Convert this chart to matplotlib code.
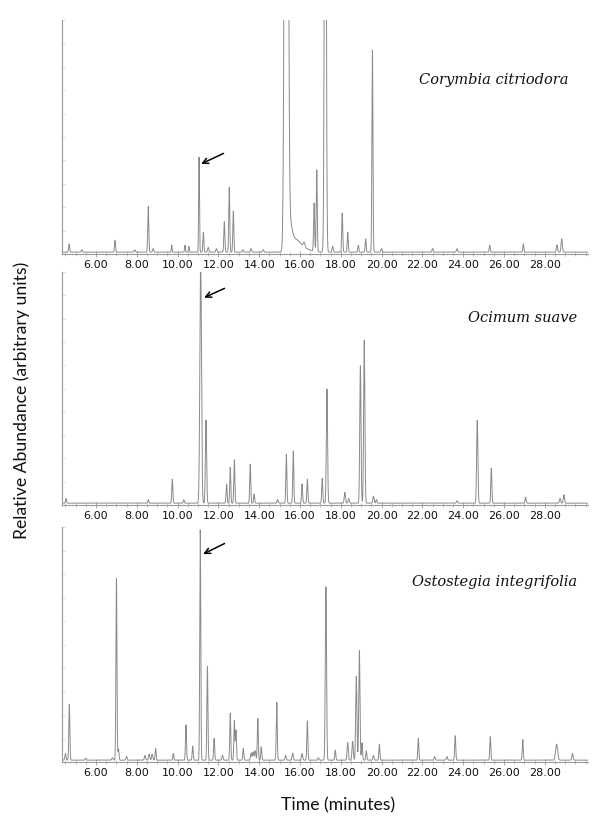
import numpy as np
import matplotlib
matplotlib.use("Agg")
import matplotlib.pyplot as plt
from matplotlib.ticker import MultipleLocator, FixedLocator

# ---------------- data (peak tables) ----------------
# retention time (min), height (% of panel full scale), width (sigma, min)
cc_times = [4.68, 5.30, 6.93, 7.90, 8.56, 8.80, 9.71, 10.36, 10.55, 11.05, 11.26, 11.50,
            11.90, 12.29, 12.53, 12.73, 13.20, 13.60, 14.20, 15.33, 15.52, 15.75, 16.05,
            16.20, 16.69, 16.82, 17.24, 17.60, 18.07, 18.34, 18.86, 19.22, 19.55, 20.00,
            22.50, 23.70, 25.30, 26.95, 28.60, 28.83]
cc_heights = [3.5, 1.0, 5.0, 1.0, 19.5, 1.5, 3.0, 3.0, 2.5, 40.6, 8.5, 2.0,
              1.5, 13.0, 27.8, 17.5, 1.0, 1.5, 1.0, 600.0, 9.0, 4.0, 2.0,
              2.0, 20.6, 35.0, 300.0, 2.5, 16.7, 8.5, 3.0, 5.7, 86.5, 1.5,
              1.5, 1.5, 3.0, 3.5, 3.0, 5.7]
cc_widths = [0.025, 0.03, 0.025, 0.03, 0.025, 0.03, 0.02, 0.02, 0.02, 0.02, 0.025, 0.03,
             0.03, 0.025, 0.025, 0.025, 0.03, 0.03, 0.03, 0.066, 0.1, 0.22, 0.35,
             0.04, 0.025, 0.025, 0.04, 0.03, 0.025, 0.025, 0.025, 0.025, 0.025, 0.03,
             0.03, 0.03, 0.025, 0.025, 0.03, 0.03]

os_times = [4.53, 8.56, 9.74, 10.30, 11.13, 11.39, 12.40, 12.58, 12.78, 13.56, 13.75,
            14.90, 15.33, 15.67, 16.10, 16.36, 17.09, 17.32, 18.20, 18.39, 18.96, 19.15,
            19.60, 19.75, 23.70, 24.69, 25.38, 27.06, 28.75, 28.94]
os_heights = [2.0, 1.5, 10.3, 1.5, 104.0, 35.7, 8.2, 15.3, 18.6, 16.7, 3.9,
              1.5, 21.0, 22.4, 8.3, 10.3, 10.7, 49.0, 4.6, 2.0, 59.0, 70.0,
              3.0, 1.5, 1.0, 35.5, 15.0, 2.6, 2.0, 3.6]
os_widths = [0.025, 0.025, 0.025, 0.025, 0.04, 0.03, 0.025, 0.025, 0.025, 0.025, 0.025,
             0.03, 0.025, 0.025, 0.025, 0.025, 0.025, 0.03, 0.03, 0.03, 0.03, 0.03,
             0.03, 0.03, 0.03, 0.03, 0.025, 0.025, 0.03, 0.03]

oi_times = [4.50, 4.69, 5.50, 6.80, 7.00, 7.10, 7.50, 8.40, 8.60, 8.75, 8.92, 9.79,
            10.41, 10.74, 11.11, 11.46, 11.79, 12.20, 12.58, 12.78, 12.86, 13.22, 13.60,
            13.70, 13.80, 13.93, 14.10, 14.86, 15.30, 15.64, 16.10, 16.36, 16.90, 17.27,
            17.73, 18.34, 18.58, 18.76, 18.91, 19.04, 19.25, 19.60, 19.89, 21.80, 22.60,
            23.20, 23.61, 25.33, 26.92, 28.58, 29.36]
oi_heights = [2.8, 23.8, 0.8, 1.0, 77.4, 4.7, 1.5, 2.0, 2.5, 2.5, 5.0, 2.8,
              15.0, 6.0, 98.0, 40.0, 9.3, 2.0, 20.0, 16.8, 12.8, 5.0, 3.0,
              3.5, 4.0, 17.8, 5.7, 24.6, 2.0, 3.0, 2.8, 16.7, 1.0, 73.8,
              4.3, 7.5, 8.0, 35.6, 46.6, 7.4, 4.0, 2.0, 6.7, 9.3, 1.5,
              1.5, 10.4, 10.0, 8.8, 6.7, 2.8]
oi_widths = [0.03, 0.025, 0.03, 0.03, 0.025, 0.025, 0.03, 0.03, 0.03, 0.03, 0.025, 0.025,
             0.025, 0.025, 0.025, 0.025, 0.025, 0.03, 0.025, 0.025, 0.025, 0.025, 0.03,
             0.03, 0.03, 0.025, 0.025, 0.025, 0.03, 0.03, 0.03, 0.025, 0.03, 0.03,
             0.025, 0.03, 0.03, 0.03, 0.03, 0.025, 0.025, 0.03, 0.025, 0.025, 0.03,
             0.03, 0.025, 0.025, 0.025, 0.05, 0.03]

species = ["Corymbia citriodora", "Ocimum suave", "Ostostegia integrifolia"]
tick_values = [6, 8, 10, 12, 14, 16, 18, 20, 22, 24, 26, 28]
tick_labels = ["6.00", "8.00", "10.00", "12.00", "14.00", "16.00", "18.00",
               "20.00", "22.00", "24.00", "26.00", "28.00"]
# arrow tip (time, % height) and tail
arrow_tips = [(11.15, 38.5), (11.30, 89.0), (11.25, 88.5)]
arrow_tails = [(12.25, 43.0), (12.30, 93.0), (12.30, 93.0)]

x_min, x_max = 4.33, 30.12
baseline_level = 0.8

# ---------------- figure ----------------
fig = plt.figure(figsize=(6.0, 8.35), dpi=100)
panels = [
    (cc_times, cc_heights, cc_widths, [0.1033, 0.6958, 0.8767, 0.2802], (0.962, 0.744)),
    (os_times, os_heights, os_widths, [0.1033, 0.3952, 0.8767, 0.2790], (0.979, 0.803)),
    (oi_times, oi_heights, oi_widths, [0.1033, 0.0874, 0.8767, 0.2814], (0.979, 0.766)),
]

t = np.linspace(x_min, x_max, 8000)
line_color = "#8a8a8a"

for i, (pt, ph, pw, rect, lab) in enumerate(panels):
    ax = fig.add_axes(rect)
    y = np.full_like(t, baseline_level)
    for c, h, w in zip(pt, ph, pw):
        y += h * np.exp(-0.5 * ((t - c) / w) ** 2)
    ax.plot(t, y, color=line_color, lw=0.7)
    ax.set_xlim(x_min, x_max)
    ax.set_ylim(0, 100)
    for s in ("top", "right"):
        ax.spines[s].set_visible(False)
    ax.spines["left"].set_color("#9a9a9a")
    ax.spines["bottom"].set_color("#9a9a9a")
    ax.spines["left"].set_linewidth(0.8)
    ax.spines["bottom"].set_linewidth(0.8)
    ax.xaxis.set_major_locator(FixedLocator(tick_values))
    ax.set_xticklabels(tick_labels)
    ax.xaxis.set_minor_locator(MultipleLocator(0.5))
    ax.tick_params(axis="x", which="major", direction="inout", length=4, width=0.6,
                   color="#9a9a9a", labelsize=8, pad=2, labelcolor="#111111")
    ax.tick_params(axis="x", which="minor", direction="inout", length=2.5, width=0.5,
                   color="#aaaaaa")
    ax.yaxis.set_major_locator(MultipleLocator(10))
    ax.tick_params(axis="y", which="major", direction="in", length=2, width=0.5,
                   color="#cccccc", labelleft=False)
    ax.text(lab[0], lab[1], species[i], transform=ax.transAxes, ha="right", va="center",
            fontsize=10.5, style="italic", family="DejaVu Serif", color="#111111")
    ax.annotate("", xy=arrow_tips[i], xytext=arrow_tails[i],
                arrowprops=dict(arrowstyle="->", color="black", lw=1.1,
                                mutation_scale=10, shrinkA=0, shrinkB=0))

fig.text(0.037, 0.521, "Relative Abundance (arbitrary units)", rotation=90,
         ha="center", va="center", fontsize=12.7, family="Lato", color="#111111")
fig.text(0.563, 0.036, "Time (minutes)", ha="center", va="center",
         fontsize=12.7, family="Lato", color="#111111")

fig.savefig("out.png", dpi=100, facecolor="white")
